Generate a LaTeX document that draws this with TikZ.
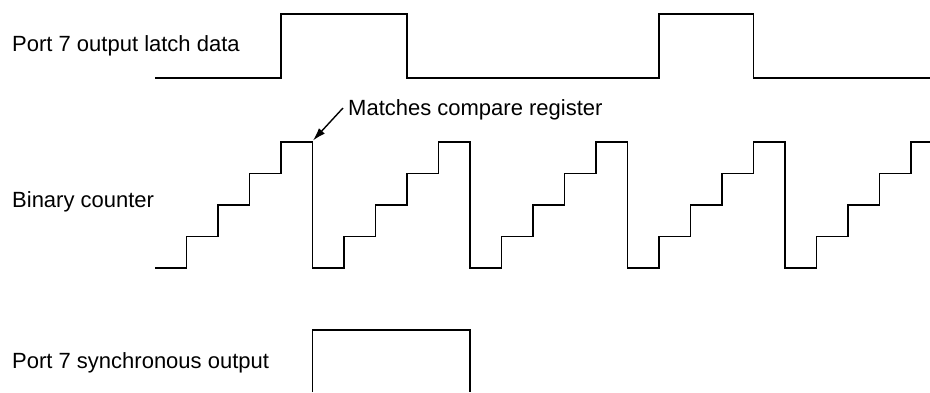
\documentclass[tikz,border=0pt]{standalone}
\usepackage{fontspec}
\setmainfont{Liberation Sans}
\usetikzlibrary{arrows.meta}
\tikzset{wave/.style={
    draw,
    line width=1.6pt,
    line join=miter
  },
  sig/.style={
    anchor=base west,
    inner sep=0pt,
    font=\fontsize{22}{26}\selectfont
  },
  pointer/.style={line width=1.4pt,-{Latex[length=13pt,width=8pt]}},
}
\begin{document}
\begin{tikzpicture}[x=1pt,y=-1pt]
  \useasboundingbox (0,0) rectangle (930,392);
  \node [sig] (latch) at (12,51.7) {Port 7 output latch data};
  \node [sig] (counter) at (12,207.3) {Binary counter};
  \node [sig] (sync) at (12,368) {Port 7 synchronous output};
  \node [sig] (match) at (348,115) {Matches compare register};
  \coordinate (peak) at (313,140.5);
  \draw[wave] (155,78) -- (281,78) -- (281,14) -- (407,14) -- (407,78)
    -- (659,78) -- (659,14) -- (753.5,14) -- (753.5,78) -- (930,78);
  \draw[wave] (155,268)
    \foreach \k in {1,...,4}{
      \foreach \j in {1,...,4}{ -- ++(31.5,0) -- ++(0,-31.5) }
      -- ++(31.5,0) -- ++(0,126) }
    \foreach \j in {1,...,4}{ -- ++(31.5,0) -- ++(0,-31.5) } -- (930,142);
  \draw[wave] (312.5,392) -- (312.5,330) -- (470,330) -- (470,392);
  \draw[pointer] ([shift={(-5,-7)}]match.base west) -- (peak);
\end{tikzpicture}
\end{document}
